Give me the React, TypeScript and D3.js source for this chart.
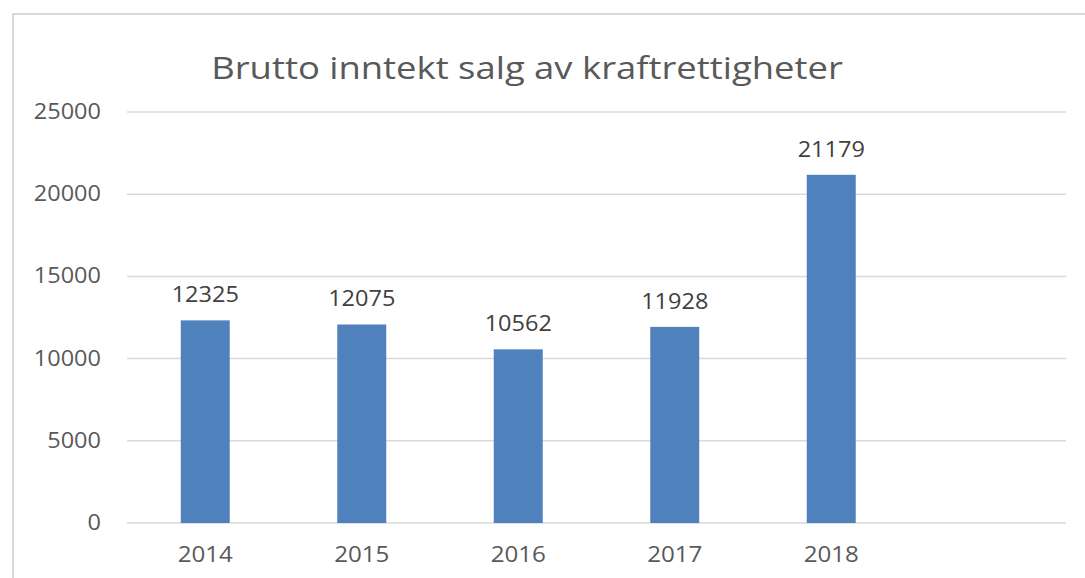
import React from "react";
import * as d3 from "d3";

const years = ["2014", "2015", "2016", "2017", "2018", ""];
const values = [12325, 12075, 10562, 11928, 21179];
const yTicks = [0, 5000, 10000, 15000, 20000, 25000];
const title = "Brutto inntekt salg av kraftrettigheter";

const W = 1085;
const H = 578;
const font = "'Open Sans', 'DejaVu Sans', sans-serif";

// the reference text is a bit stretched sideways, so scale it in x
function Label(props: { x: number; y: number; sx?: number; size: number; anchor: string; fill: string; children: any }) {
  const sx = props.sx ?? 1.12;
  return (
    <text transform={`translate(${props.x},${props.y}) scale(${sx},1)`} textAnchor={props.anchor} fontSize={props.size} fill={props.fill}>
      {props.children}
    </text>
  );
}

export default function App() {
  const plotLeft = 127;
  const plotRight = 1066;
  const plotTop = 112;
  const plotBottom = 523;

  const x = d3.scaleBand().domain(years).range([plotLeft, plotRight]).paddingInner(0.687).paddingOuter(0.3435);
  const y = d3.scaleLinear().domain([0, 25000]).range([plotBottom, plotTop]);
  const cx = (d: string) => (x(d) as number) + x.bandwidth() / 2;

  return (
    <svg width={W} height={H} style={{ position: "absolute", left: 0, top: 0, background: "#fff" }} fontFamily={font}>
      <rect x={13} y={14} width={W} height={H} fill="none" stroke="#d9d9d9" strokeWidth={2} />
      <Label x={527} y={79} sx={1.175} size={31} anchor="middle" fill="#595959">{title}</Label>
      {yTicks.map(t => (
        <g key={t}>
          <line x1={plotLeft} x2={plotRight} y1={y(t)} y2={y(t)} stroke="#d9d9d9" strokeWidth={1.5} />
          <Label x={101} y={y(t) + 7} size={21} anchor="end" fill="#595959">{t}</Label>
        </g>
      ))}
      {values.map((v, i) => (
        <g key={years[i]}>
          <rect x={x(years[i])} y={y(v)} width={x.bandwidth()} height={plotBottom - y(v)} fill="#4f81bd" />
          <Label x={cx(years[i])} y={y(v) - 18} size={21} anchor="middle" fill="#404040">{v}</Label>
        </g>
      ))}
      {years.filter(d => d).map(d => (
        <Label key={d} x={cx(d)} y={562} sx={1.15} size={21} anchor="middle" fill="#595959">{d}</Label>
      ))}
    </svg>
  );
}
